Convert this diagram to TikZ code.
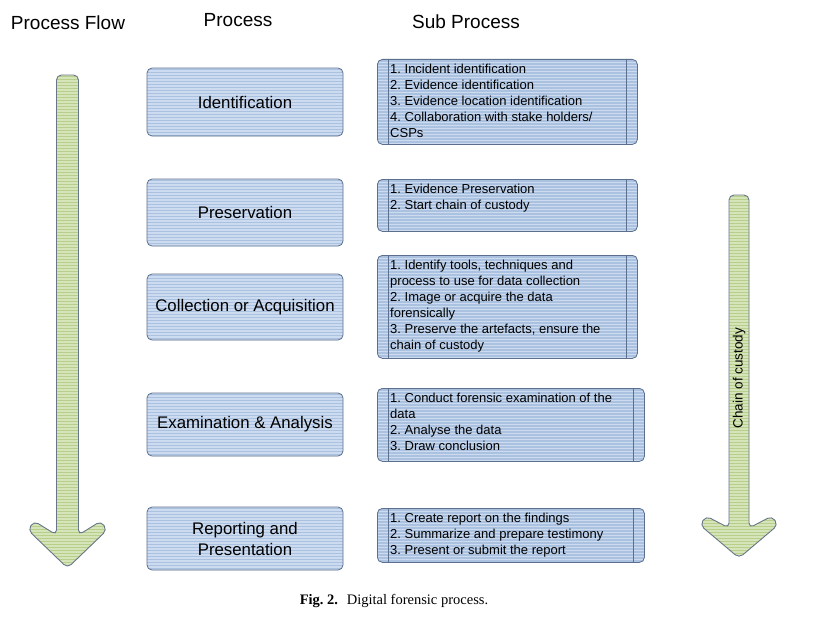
\documentclass[tikz,border=0pt]{standalone}
\usepackage{fontspec}
\setmainfont{Liberation Sans}
\newfontfamily\capfont{Liberation Serif}
\frenchspacing
\definecolor{boxfill}{RGB}{170,193,224}
\definecolor{boxline}{RGB}{204,219,239}
\definecolor{boxedge}{RGB}{92,112,142}
\definecolor{arrfill}{RGB}{184,207,140}
\definecolor{arrline}{RGB}{214,228,186}
\definecolor{arredge}{RGB}{104,118,138}
\tikzset{
  stripes/.style 2 args={fill=#1, path picture={
    \foreach \i in {0,3,...,500}
      \draw[#2, line width=1.3pt] ([yshift=-\i pt]path picture bounding box.north west)
        -- ([yshift=-\i pt]path picture bounding box.north east);}},
  procbox/.style={draw=boxedge, line width=0.8pt, stripes={boxfill}{boxline},
    rounded corners=5pt, minimum width=196pt, align=center,
    font=\fontsize{16.8}{21}\selectfont},
  subbox/.style={draw=boxedge, line width=0.8pt, stripes={boxfill}{boxline},
    rounded corners=5pt, anchor=north west, inner sep=0pt},
  subtext/.style={anchor=north west, inner sep=0pt, align=left, font=\fontsize{13}{16}\selectfont},
  subedge/.style={draw=boxedge, line width=0.8pt},
  head/.style={font=\fontsize{19}{22}\selectfont},
  flowarrow/.style={draw=arredge, line width=0.9pt, stripes={arrfill}{arrline},
    rounded corners=5pt}
}
\begin{document}
\begin{tikzpicture}[x=1pt, y=-1pt]
  \fill[white] (0,0) rectangle (821,642);
  \useasboundingbox (0,0) rectangle (821,642);

  \node[head] (flowhead) at (68,23) {Process Flow};
  \node[head] (prochead) at (238,20) {Process};
  \node[head] (subhead) at (466,22) {Sub Process};

  \draw[flowarrow] (67.5,75) -- (78.5,75) -- (78.5,535) -- (101,521) -- (107,530) -- (67.5,568)
    -- (28,530) -- (34,521) -- (56.5,535) -- (56.5,75) -- cycle;
  \draw[flowarrow] (739,195) -- (749,195) -- (749,528) -- (772,516) -- (778,525) -- (739,558)
    -- (700,525) -- (706,516) -- (729,528) -- (729,195) -- cycle;
  \node[rotate=90, font=\fontsize{13.5}{16}\selectfont] (custody) at (739,378) {Chain of custody};

  \node[procbox, minimum height=68pt] (ident) at (245,102) {Identification};
  \node[procbox, minimum height=67pt] (pres) at (245,212.5) {Preservation};
  \node[procbox, minimum height=66pt] (coll) at (245,307) {Collection or Acquisition};
  \node[procbox, minimum height=63pt] (exam) at (245,424.5) {Examination \& Analysis};
  \node[procbox, minimum height=63pt] (rep) at (245,538.5) {Reporting and\\Presentation};

  \node[subbox, minimum width=260pt, minimum height=85pt] (identsub) at (377,59) {};
  \node[subbox, minimum width=260pt, minimum height=52pt] (pressub) at (377,179) {};
  \node[subbox, minimum width=260pt, minimum height=103pt] (collsub) at (377,255) {};
  \node[subbox, minimum width=267pt, minimum height=73pt] (examsub) at (377,388) {};
  \node[subbox, minimum width=267pt, minimum height=54pt] (repsub) at (377,508) {};

  \foreach \s in {identsub, pressub, collsub, examsub, repsub} {
    \draw[subedge] ([xshift=11pt]\s.north west) -- ([xshift=11pt]\s.south west);
    \draw[subedge] ([xshift=-11pt]\s.north east) -- ([xshift=-11pt]\s.south east);
  }

  \node[subtext] (identtxt) at ([xshift=13pt, yshift=-5pt]identsub.north west)
    {1. Incident identification\\2. Evidence identification\\3. Evidence location identification\\
     4. Collaboration with stake holders/\\CSPs};
  \node[subtext] (prestxt) at ([xshift=13pt, yshift=-5pt]pressub.north west)
    {1. Evidence Preservation\\2. Start chain of custody};
  \node[subtext] (colltxt) at ([xshift=13pt, yshift=-5pt]collsub.north west)
    {1. Identify tools, techniques and\\process to use for data collection\\2. Image or acquire the data\\
     forensically\\3. Preserve the artefacts, ensure the\\chain of custody};
  \node[subtext] (examtxt) at ([xshift=13pt, yshift=-5pt]examsub.north west)
    {1. Conduct forensic examination of the\\data\\2. Analyse the data\\3. Draw conclusion};
  \node[subtext] (reptxt) at ([xshift=13pt, yshift=-5pt]repsub.north west)
    {1. Create report on the findings\\2. Summarize and prepare testimony\\3. Present or submit the report};

  \node[font=\capfont\fontsize{14.5}{17}\selectfont] (caption) at (394,601)
    {\textbf{Fig. 2.}\hspace{0.6em}Digital forensic process.};
\end{tikzpicture}
\end{document}
